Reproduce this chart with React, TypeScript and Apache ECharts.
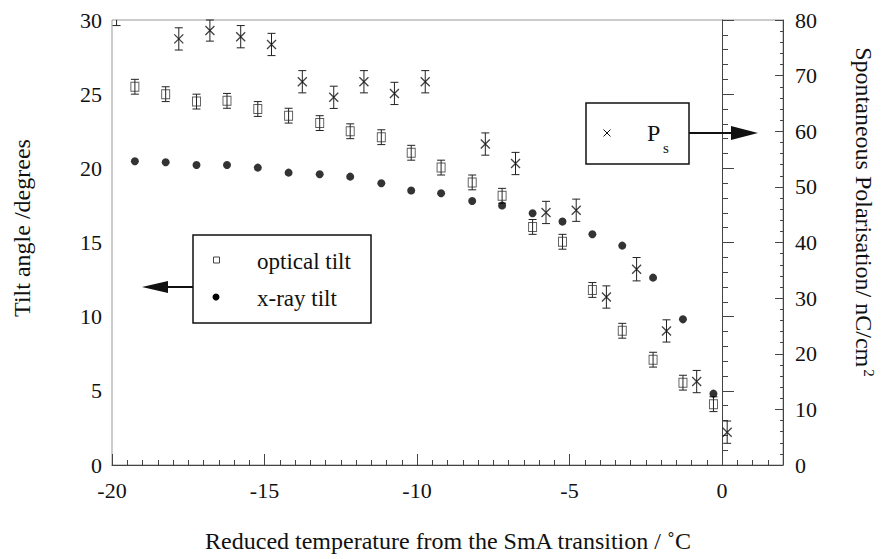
import React, { useEffect, useRef } from 'react';
import * as echarts from 'echarts';

// ---- data ----
const temps = [-19.25, -18.24, -17.23, -16.23, -15.22, -14.21, -13.19, -12.19, -11.17, -10.19, -9.21, -8.19, -7.21, -6.21, -5.23, -4.25, -3.27, -2.26, -1.28, -0.28];
const opticalTilt = [25.5, 25.0, 24.5, 24.55, 24.0, 23.55, 23.05, 22.5, 22.1, 21.05, 20.05, 19.05, 18.15, 16.05, 15.05, 11.8, 9.05, 7.1, 5.55, 4.1];
const opticalErr = [0.5, 0.5, 0.5, 0.5, 0.5, 0.5, 0.5, 0.5, 0.5, 0.5, 0.5, 0.5, 0.5, 0.5, 0.5, 0.5, 0.5, 0.5, 0.5, 0.5];
const xrayTilt = [20.48, 20.41, 20.23, 20.23, 20.05, 19.71, 19.6, 19.44, 19.0, 18.5, 18.32, 17.8, 17.49, 16.97, 16.41, 15.56, 14.79, 12.63, 9.82, 4.81];
const psTemps = [-19.85, -17.81, -16.79, -15.78, -14.77, -13.76, -12.73, -11.74, -10.74, -9.73, -7.76, -6.77, -5.77, -4.78, -3.79, -2.8, -1.82, -0.83, 0.17];
const psValues = [81.5, 76.6, 78.1, 77.0, 75.6, 68.9, 66.1, 68.9, 66.8, 68.9, 57.7, 54.2, 45.4, 45.8, 30.2, 35.2, 24.1, 15.0, 5.9];
const psErr = [2.5, 2.0, 1.9, 2.0, 2.0, 2.0, 2.0, 2.0, 2.0, 2.0, 2.0, 2.0, 2.0, 2.0, 2.0, 2.1, 2.0, 2.0, 2.0];
const xTickLabels = ['-20', '-15', '-10', '-5', '0'];

const FONT = '"Liberation Serif", "Times New Roman", serif';
const INK = '#111';

function errorBars(name: string, xs: number[], ys: number[], errs: number[], yAxisIndex: number, capHalf: number) {
  return {
    type: 'custom',
    name,
    yAxisIndex,
    silent: true,
    z: 2,
    data: xs.map((x, i) => [x, ys[i] - errs[i], ys[i] + errs[i]]),
    encode: { x: 0, y: [1, 2] },
    renderItem: (params: any, api: any) => {
      const cs = params.coordSys;
      const lo = api.coord([api.value(0), api.value(1)]);
      const hi = api.coord([api.value(0), api.value(2)]);
      const style = { stroke: '#222', lineWidth: 1 };
      const top = Math.max(hi[1], cs.y);
      const children: any[] = [
        { type: 'line', shape: { x1: lo[0], y1: lo[1], x2: hi[0], y2: top }, style },
        { type: 'line', shape: { x1: lo[0] - capHalf, y1: lo[1], x2: lo[0] + capHalf, y2: lo[1] }, style },
      ];
      if (hi[1] >= cs.y) {
        children.push({ type: 'line', shape: { x1: hi[0] - capHalf, y1: hi[1], x2: hi[0] + capHalf, y2: hi[1] }, style });
      }
      return { type: 'group', children };
    },
  };
}

export default function App() {
  const ref = useRef<HTMLDivElement>(null);
  useEffect(() => {
    if (!ref.current) return;
    const chart = echarts.init(ref.current, undefined, { renderer: 'svg' });
    const labelStyle = { fontFamily: FONT, fontSize: 22, color: INK };
    const option: any = {
      animation: false,
      backgroundColor: '#fff',
      grid: { left: 112, right: 99, top: 20, bottom: 94, show: true, borderColor: '#999', borderWidth: 1 },
      xAxis: {
        type: 'value', min: -20, max: 2, interval: 5,
        axisLine: { show: true, lineStyle: { color: '#444', width: 1 } },
        axisTick: { show: true, inside: true, length: 11, lineStyle: { color: '#444' } },
        minorTick: { show: true, splitNumber: 10, length: 5, lineStyle: { color: '#444' } },
        splitLine: { show: false },
        axisLabel: {
          ...labelStyle, margin: 14,
          formatter: (v: number) => (xTickLabels.indexOf(String(v)) >= 0 ? String(v) : ''),
        },
      },
      yAxis: [
        {
          type: 'value', min: 0, max: 30, interval: 5, position: 'left',
          axisLine: { show: true, lineStyle: { color: '#444', width: 1 } },
          axisTick: { show: true, inside: true, length: 12, lineStyle: { color: '#444' } },
          minorTick: { show: true, splitNumber: 5, length: 6, lineStyle: { color: '#444' } },
          splitLine: { show: false },
          axisLabel: { ...labelStyle, margin: 10 },
        },
        {
          type: 'value', min: 0, max: 80, interval: 10, position: 'right',
          axisLine: { show: true, lineStyle: { color: '#444', width: 1 } },
          axisTick: { show: true, inside: true, length: 8, lineStyle: { color: '#444' } },
          minorTick: { show: true, splitNumber: 5, length: 3, lineStyle: { color: '#444' } },
          splitLine: { show: false },
          axisLabel: { ...labelStyle, margin: 12 },
        },
      ],
      series: [
        errorBars('optical err', temps, opticalTilt, opticalErr, 0, 4),
        errorBars('Ps err', psTemps, psValues, psErr, 1, 4),
        {
          type: 'scatter', name: 'optical tilt', yAxisIndex: 0, z: 3,
          symbol: 'rect', symbolSize: [8, 9],
          itemStyle: { color: 'rgba(0,0,0,0)', borderColor: '#333', borderWidth: 1 },
          data: temps.map((t, i) => [t, opticalTilt[i]]),
        },
        {
          type: 'scatter', name: 'x-ray tilt', yAxisIndex: 0, z: 4,
          symbol: 'circle', symbolSize: 8,
          itemStyle: { color: '#000' },
          data: temps.map((t, i) => [t, xrayTilt[i]]),
        },
        {
          type: 'scatter', name: 'Ps', yAxisIndex: 1, z: 4,
          symbol: 'path://M0 0L10 10M10 0L0 10', symbolSize: 9,
          itemStyle: { color: 'rgba(0,0,0,0)', borderColor: '#111', borderWidth: 1.3 },
          data: psTemps.map((t, i) => [t, psValues[i]]),
        },
      ],
      graphic: [
        // axis titles
        {
          type: 'text', x: 22, y: 228, rotation: Math.PI / 2,
          style: { text: 'Tilt angle /degrees', fontFamily: FONT, fontSize: 24, fill: INK, align: 'center', verticalAlign: 'middle' },
        },
        {
          type: 'text', x: 864, y: 212, rotation: -Math.PI / 2,
          style: {
            text: 'Spontaneous Polarisation/ nC/cm{sup|2}', fontFamily: FONT, fontSize: 24, fill: INK,
            align: 'center', verticalAlign: 'middle',
            rich: { sup: { fontFamily: FONT, fontSize: 15, fill: INK, verticalAlign: 'top', padding: [0, 0, 9, 2] } },
          },
        },
        {
          type: 'text', x: 448, y: 541,
          style: { text: 'Reduced temperature from the SmA transition / ˚C', fontFamily: FONT, fontSize: 24, fill: INK, align: 'center', verticalAlign: 'middle' },
        },
        // legend box 1
        { type: 'rect', shape: { x: 193, y: 235, width: 178, height: 88 }, style: { fill: '#fff', stroke: INK, lineWidth: 1.5 }, z: 10 },
        { type: 'rect', shape: { x: 213.5, y: 257, width: 6, height: 6 }, style: { fill: '#fff', stroke: '#444', lineWidth: 1 }, z: 11 },
        { type: 'text', x: 257, y: 261, style: { text: 'optical tilt', fontFamily: FONT, fontSize: 23, fill: INK, align: 'left', verticalAlign: 'middle' }, z: 11 },
        { type: 'circle', shape: { cx: 216, cy: 297, r: 3.5 }, style: { fill: '#000' }, z: 11 },
        { type: 'text', x: 257, y: 298, style: { text: 'x-ray tilt', fontFamily: FONT, fontSize: 23, fill: INK, align: 'left', verticalAlign: 'middle' }, z: 11 },
        { type: 'line', shape: { x1: 193, y1: 287, x2: 165, y2: 287 }, style: { stroke: INK, lineWidth: 2 }, z: 11 },
        { type: 'polygon', shape: { points: [[142, 287], [168, 281], [168, 293]] }, style: { fill: INK }, z: 11 },
        // legend box 2
        { type: 'rect', shape: { x: 586, y: 103, width: 103, height: 61 }, style: { fill: '#fff', stroke: INK, lineWidth: 1.5 }, z: 10 },
        { type: 'line', shape: { x1: 603.5, y1: 129.5, x2: 610.5, y2: 136.5 }, style: { stroke: INK, lineWidth: 1 }, z: 11 },
        { type: 'line', shape: { x1: 610.5, y1: 129.5, x2: 603.5, y2: 136.5 }, style: { stroke: INK, lineWidth: 1 }, z: 11 },
        { type: 'text', x: 647, y: 133, style: { text: 'P', fontFamily: FONT, fontSize: 24, fill: INK, align: 'left', verticalAlign: 'middle' }, z: 11 },
        { type: 'text', x: 663, y: 148, style: { text: 's', fontFamily: FONT, fontSize: 15, fill: INK, align: 'left', verticalAlign: 'middle' }, z: 11 },
        { type: 'line', shape: { x1: 689, y1: 133, x2: 735, y2: 133 }, style: { stroke: INK, lineWidth: 2 }, z: 11 },
        { type: 'polygon', shape: { points: [[758, 133], [731, 126], [731, 140]] }, style: { fill: INK }, z: 11 },
      ],
    };
    chart.setOption(option);
    return () => chart.dispose();
  }, []);
  return <div ref={ref} style={{ position: 'absolute', left: 0, top: 0, width: 882, height: 559 }} />;
}
